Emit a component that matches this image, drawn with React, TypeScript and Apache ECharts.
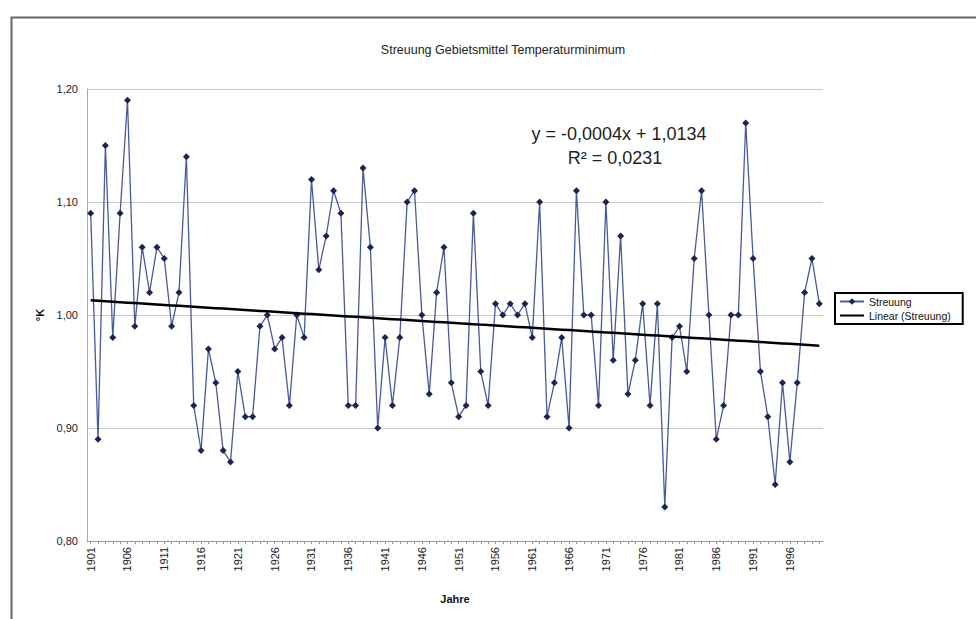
import React, { useEffect, useRef } from "react";
import * as echarts from "echarts";

const years: string[] = [];
for (let y = 1901; y <= 2000; y++) years.push(String(y));

const streuung: number[] = [
  1.09, 0.89, 1.15, 0.98, 1.09, 1.19, 0.99, 1.06, 1.02, 1.06,
  1.05, 0.99, 1.02, 1.14, 0.92, 0.88, 0.97, 0.94, 0.88, 0.87,
  0.95, 0.91, 0.91, 0.99, 1.0, 0.97, 0.98, 0.92, 1.0, 0.98,
  1.12, 1.04, 1.07, 1.11, 1.09, 0.92, 0.92, 1.13, 1.06, 0.9,
  0.98, 0.92, 0.98, 1.1, 1.11, 1.0, 0.93, 1.02, 1.06, 0.94,
  0.91, 0.92, 1.09, 0.95, 0.92, 1.01, 1.0, 1.01, 1.0, 1.01,
  0.98, 1.1, 0.91, 0.94, 0.98, 0.9, 1.11, 1.0, 1.0, 0.92,
  1.1, 0.96, 1.07, 0.93, 0.96, 1.01, 0.92, 1.01, 0.83, 0.98,
  0.99, 0.95, 1.05, 1.11, 1.0, 0.89, 0.92, 1.0, 1.0, 1.17,
  1.05, 0.95, 0.91, 0.85, 0.94, 0.87, 0.94, 1.02, 1.05, 1.01,
];

const yTicks = { min: 0.8, max: 1.2, interval: 0.1 };
const titleText = "Streuung Gebietsmittel Temperaturminimum";
const equationLines = ["y = -0,0004x + 1,0134", "R² = 0,0231"];

function linearFit(vals: number[]): number[] {
  const n = vals.length;
  let sx = 0, sy = 0, sxx = 0, sxy = 0;
  vals.forEach((v, i) => {
    const x = i + 1;
    sx += x; sy += v; sxx += x * x; sxy += x * v;
  });
  const b = (n * sxy - sx * sy) / (n * sxx - sx * sx);
  const a = (sy - b * sx) / n;
  return vals.map((_, i) => a + b * (i + 1));
}

const FONT = "'Liberation Sans', Arial, sans-serif";

export default function App() {
  const ref = useRef<HTMLDivElement>(null);
  useEffect(() => {
    if (!ref.current) return;
    const chart = echarts.init(ref.current, undefined, { renderer: "svg" });
    const trend = linearFit(streuung);
    chart.setOption({
      animation: false,
      backgroundColor: "#ffffff",
      textStyle: { fontFamily: FONT },
      title: {
        text: titleText,
        left: 498,
        top: 38,
        textAlign: "center",
        textStyle: { fontSize: 12.5, fontWeight: "normal", color: "#222", fontFamily: FONT },
      },
      grid: { left: 87, right: 153, top: 89, bottom: 78, containLabel: false },
      legend: {
        orient: "vertical",
        left: 835,
        top: 293,
        width: 133,
        padding: [3, 12, 3, 4],
        itemGap: 3,
        itemWidth: 24,
        itemHeight: 8,
        borderColor: "#000",
        borderWidth: 2,
        textStyle: { fontSize: 10.5, color: "#111", fontFamily: FONT },
        data: [
          { name: "Streuung" },
          { name: "Linear (Streuung)", itemStyle: { opacity: 0 } },
        ],
      },
      xAxis: {
        type: "category",
        data: years,
        boundaryGap: true,
        name: "Jahre",
        nameLocation: "middle",
        nameGap: 52,
        nameTextStyle: { fontSize: 11, fontWeight: "bold", color: "#111", fontFamily: FONT },
        axisLine: { lineStyle: { color: "#999", width: 1 } },
        axisTick: { show: true, interval: 0, length: 3, alignWithLabel: true, lineStyle: { color: "#999" } },
        axisLabel: {
          interval: 4,
          rotate: 90,
          fontSize: 11,
          color: "#222",
          margin: 6,
          fontFamily: FONT,
        },
        splitLine: { show: false },
      },
      yAxis: {
        type: "value",
        min: yTicks.min,
        max: yTicks.max,
        interval: yTicks.interval,
        name: "°K",
        nameLocation: "middle",
        nameRotate: 90,
        nameGap: 38,
        nameTextStyle: { fontSize: 11, fontWeight: "bold", color: "#111", fontFamily: FONT },
        axisLine: { show: true, lineStyle: { color: "#aaa", width: 1 } },
        axisTick: { show: false },
        axisLabel: {
          fontSize: 11,
          color: "#222",
          margin: 9,
          fontFamily: FONT,
          formatter: (v: number) => v.toFixed(2).replace(".", ","),
        },
        splitLine: { show: true, lineStyle: { color: "#c8c8c8", width: 1 } },
      },
      graphic: [
        {
          type: "rect",
          left: 9,
          top: 15,
          shape: { width: 990, height: 640 },
          style: { fill: "none", stroke: "#666", lineWidth: 2 },
          silent: true,
          z: -1,
        },
        {
          type: "text",
          x: 619,
          y: 134,
          style: {
            text: equationLines[0],
            fontSize: 18,
            fill: "#222",
            fontFamily: FONT,
            textAlign: "center",
            textVerticalAlign: "middle",
          },
        },
        {
          type: "text",
          x: 615,
          y: 158,
          style: {
            text: equationLines[1],
            fontSize: 18,
            fill: "#222",
            fontFamily: FONT,
            textAlign: "center",
            textVerticalAlign: "middle",
          },
        },
      ],
      series: [
        {
          name: "Streuung",
          type: "line",
          data: streuung,
          symbol: "diamond",
          symbolSize: 7,
          showSymbol: true,
          showAllSymbol: true,
          lineStyle: { color: "#4a5a9a", width: 1.3 },
          itemStyle: { color: "#1c2452", borderWidth: 0 },
          z: 2,
        },
        {
          name: "Linear (Streuung)",
          type: "line",
          data: trend,
          showSymbol: false,
          symbol: "none",
          lineStyle: { color: "#000", width: 2.5 },
          itemStyle: { color: "#000" },
          z: 3,
        },
      ],
    });
    return () => chart.dispose();
  }, []);
  return <div ref={ref} style={{ width: 976, height: 619, position: "absolute", left: 0, top: 0 }} />;
}
